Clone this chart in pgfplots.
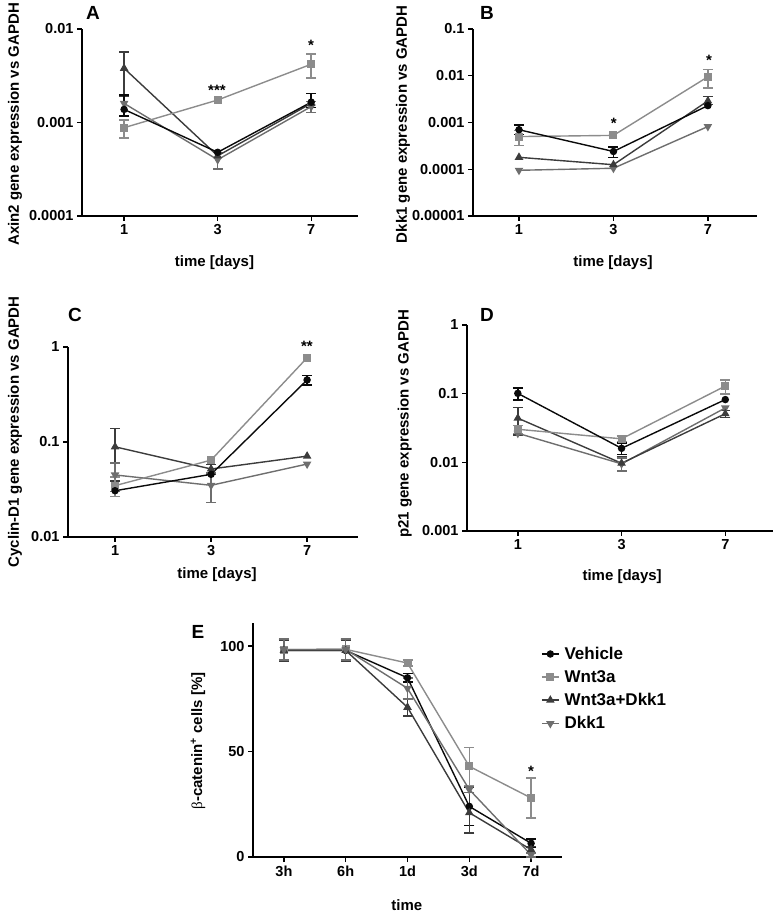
\documentclass[border=0pt]{standalone}
\usepackage{amsmath}
\usepackage{pgfplots}
\pgfplotsset{compat=1.18}
\usepackage{fontspec}
\setmainfont{Liberation Sans}
\newfontfamily\serifgr{Liberation Serif}
\definecolor{cveh}{HTML}{0A0A0A}
\definecolor{cwnt}{HTML}{8C8C8C}
\definecolor{cwd}{HTML}{3C3C3C}
\definecolor{cdkk}{HTML}{6E6E6E}
\newcommand{\lf}{\fontsize{15}{17}\selectfont\bfseries}
\pgfplotsset{
  panel/.style={
    scale only axis, anchor=south west,
    axis x line=bottom, axis y line=left,
    axis line style={-, line width=1.6pt, black},
    tick align=outside, major tick length=5pt,
    tick style={line width=1.4pt, black},
    tick label style={font=\fontsize{14.5}{16}\selectfont\bfseries},
    yminorticks=false, xminorticks=false,
    clip=false,
  },
  veh/.style={color=cveh, mark=*, mark size=3pt, line width=1.4pt},
  wnt/.style={color=cwnt, mark=square*, mark size=3.3pt, line width=1.4pt},
  wd/.style={color=cwd, mark=triangle*, mark size=3.6pt, line width=1.4pt},
  dkk/.style={color=cdkk, mark=triangle*, mark options={rotate=180}, mark size=3.6pt, line width=1.4pt},
  eb/.style={draw=none, mark=none, forget plot,
    error bars/.cd, y dir=both, y explicit,
    error bar style={line width=1.5pt, draw=#1, solid},
    error mark options={rotate=90, mark size=5pt, line width=1.5pt, draw=#1}},
}
\begin{document}
\begin{tikzpicture}[x=1pt,y=1pt]
\useasboundingbox (0,0) rectangle (777,914);

% ---------------- A ----------------
\begin{axis}[panel, at={(82pt,698pt)}, width=276pt, height=187pt,
  ymode=log, ymin=0.0001, ymax=0.01,
  ytick={0.0001,0.001,0.01}, yticklabels={0.0001,0.001,0.01},
  xmin=-0.45, xmax=2.5, xtick={0,1,2}, xticklabels={1,3,7},
  xlabel={time [days]}, ylabel={Axin2 gene expression vs GAPDH},
  every axis y label/.style={at={(rel axis cs:-0.243,0.49)}, anchor=center, rotate=90, font=\lf},
  every axis x label/.style={at={(rel axis cs:0.48,-0.251)}, anchor=center, font=\lf},
]
\addplot[eb=cwd] coordinates {(0,0.0038) +- (0,0.0019)};
\addplot[eb=cveh] coordinates {(0,0.00138) += (0,0.0006) -= (0,0.0002) (2,0.00165) += (0,0.0004) -= (0,0.0002)};
\addplot[eb=cwnt] coordinates {(0,0.00088) += (0,0.00018) -= (0,0.0002) (2,0.0042) +- (0,0.0012)};
\addplot[eb=cdkk] coordinates {(1,0.0004) +- (0,0.00008) (2,0.00148) +- (0,0.0002)};
\addplot[dkk] coordinates {(0,0.0016) (1,0.0004) (2,0.00148)};
\addplot[wd] coordinates {(0,0.0038) (1,0.00044) (2,0.0016)};
\addplot[wnt] coordinates {(0,0.00088) (1,0.00174) (2,0.0042)};
\addplot[veh] coordinates {(0,0.00138) (1,0.00048) (2,0.00165)};
\node[font=\fontsize{15}{16}\selectfont\bfseries] at (rel axis cs:0.489,0.674) {***};
\node[font=\fontsize{15}{16}\selectfont\bfseries] at (rel axis cs:0.83,0.914) {*};
\end{axis}

% ---------------- B ----------------
\begin{axis}[panel, at={(473pt,698pt)}, width=284pt, height=187pt,
  ymode=log, ymin=0.00001, ymax=0.1,
  ytick={0.00001,0.0001,0.001,0.01,0.1}, yticklabels={0.00001,0.0001,0.001,0.01,0.1},
  xmin=-0.487, xmax=2.52, xtick={0,1,2}, xticklabels={1,3,7},
  xlabel={time [days]}, ylabel={Dkk1 gene expression vs GAPDH},
  every axis y label/.style={at={(rel axis cs:-0.246,0.49)}, anchor=center, rotate=90, font=\lf},
  every axis x label/.style={at={(rel axis cs:0.493,-0.251)}, anchor=center, font=\lf},
]
\addplot[eb=cveh] coordinates {(0,0.0007) += (0,0.00018) -= (0,0.00015) (1,0.00024) +- (0,0.00006)};
\addplot[eb=cwnt] coordinates {(0,0.0005) +- (0,0.00018) (2,0.0095) +- (0,0.004)};
\addplot[eb=cwd] coordinates {(2,0.0029) += (0,0.0007) -= (0,0.0005)};
\addplot[dkk] coordinates {(0,0.000095) (1,0.000105) (2,0.00082)};
\addplot[wd] coordinates {(0,0.00018) (1,0.000125) (2,0.0029)};
\addplot[wnt] coordinates {(0,0.0005) (1,0.00053) (2,0.0095)};
\addplot[veh] coordinates {(0,0.0007) (1,0.00024) (2,0.0023)};
\node[font=\fontsize{15}{16}\selectfont\bfseries] at (rel axis cs:0.496,0.497) {*};
\node[font=\fontsize{15}{16}\selectfont\bfseries] at (rel axis cs:0.831,0.834) {*};
\end{axis}

% ---------------- C ----------------
\begin{axis}[panel, at={(68pt,377pt)}, width=290pt, height=190pt,
  ymode=log, ymin=0.01, ymax=1,
  ytick={0.01,0.1,1}, yticklabels={0.01,0.1,1},
  xmin=-0.49, xmax=2.53, xtick={0,1,2}, xticklabels={1,3,7},
  xlabel={time [days]}, ylabel={Cyclin-D1 gene expression vs GAPDH},
  every axis y label/.style={at={(rel axis cs:-0.183,0.553)}, anchor=center, rotate=90, font=\lf},
  every axis x label/.style={at={(rel axis cs:0.514,-0.2)}, anchor=center, font=\lf},
]
\addplot[eb=cwd] coordinates {(0,0.089) +- (0,0.05) (1,0.052) +- (0,0.006)};
\addplot[eb=cdkk] coordinates {(0,0.045) +- (0,0.015) (1,0.035) +- (0,0.012)};
\addplot[eb=cwnt] coordinates {(0,0.0347) +- (0,0.008)};
\addplot[eb=cveh] coordinates {(2,0.45) +- (0,0.05)};
\addplot[dkk] coordinates {(0,0.045) (1,0.035) (2,0.0586)};
\addplot[wd] coordinates {(0,0.089) (1,0.052) (2,0.071)};
\addplot[wnt] coordinates {(0,0.0347) (1,0.0645) (2,0.77)};
\addplot[veh] coordinates {(0,0.0307) (1,0.0457) (2,0.45)};
\node[font=\fontsize{15}{16}\selectfont\bfseries] at (rel axis cs:0.824,1.005) {**};
\end{axis}

% ---------------- D ----------------
\begin{axis}[panel, at={(467pt,383pt)}, width=306pt, height=206pt,
  ymode=log, ymin=0.001, ymax=1,
  ytick={0.001,0.01,0.1,1}, yticklabels={0.001,0.01,0.1,1},
  xmin=-0.49, xmax=2.46, xtick={0,1,2}, xticklabels={1,3,7},
  xlabel={time [days]}, ylabel={p21 gene expression vs GAPDH},
  every axis y label/.style={at={(rel axis cs:-0.203,0.52)}, anchor=center, rotate=90, font=\lf},
  every axis x label/.style={at={(rel axis cs:0.507,-0.223)}, anchor=center, font=\lf},
]
\addplot[eb=cveh] coordinates {(0,0.101) +- (0,0.02) (1,0.016) +- (0,0.003)};
\addplot[eb=cwnt] coordinates {(0,0.0303) +- (0,0.004) (1,0.022) +- (0,0.002) (2,0.129) +- (0,0.03)};
\addplot[eb=cwd] coordinates {(0,0.044) +- (0,0.019) (1,0.0097) +- (0,0.0022) (2,0.051) +- (0,0.006)};
\addplot[eb=cdkk] coordinates {(1,0.0095) +- (0,0.002)};
\addplot[dkk] coordinates {(0,0.0265) (1,0.0095) (2,0.062)};
\addplot[wd] coordinates {(0,0.044) (1,0.0097) (2,0.051)};
\addplot[wnt] coordinates {(0,0.0303) (1,0.022) (2,0.129)};
\addplot[veh] coordinates {(0,0.101) (1,0.016) (2,0.082)};
\end{axis}

% ---------------- E ----------------
\begin{axis}[panel, at={(253pt,57pt)}, width=309pt, height=234pt,
  ymin=0, ymax=111, ytick={0,50,100}, yticklabels={0,50,100},
  xmin=-0.5, xmax=4.5, xtick={0,1,2,3,4}, xticklabels={3h,6h,1d,3d,7d},
  xlabel={time}, ylabel={{\serifgr\mdseries β}-catenin\textsuperscript{+} cells [\%]},
  every axis y label/.style={at={(rel axis cs:-0.178,0.496)}, anchor=center, rotate=90, font=\lf},
  every axis x label/.style={at={(rel axis cs:0.498,-0.205)}, anchor=center, font=\lf},
  legend style={at={(rel axis cs:0.922,0.915)}, anchor=north west, draw=none, fill=none,
    font=\fontsize{17}{19}\selectfont\bfseries, row sep=5.5pt, nodes={inner xsep=5pt}},
  legend cell align=left,
]
\addplot[eb=cveh] coordinates {(0,98) +- (0,5) (1,98) +- (0,5) (2,85) +- (0,2) (3,24) +- (0,9) (4,6.5) +- (0,2)};
\addplot[eb=cwnt] coordinates {(0,98.4) +- (0,5) (1,98.5) +- (0,5) (2,92) +- (0,1.5) (3,43) +- (0,9) (4,28) +- (0,9.5)};
\addplot[eb=cwd] coordinates {(0,98) +- (0,5) (1,98) +- (0,5) (2,71) +- (0,4) (3,21) +- (0,9.5) (4,3.5) +- (0,1.5)};
\addplot[eb=cdkk] coordinates {(0,98.4) +- (0,5) (1,98.5) +- (0,5) (2,80) +- (0,5) (3,32) +- (0,1.5) (4,1) +- (0,1)};
\addplot[veh] coordinates {(0,98) (1,98) (2,85) (3,24) (4,6.5)};
\addlegendentry{Vehicle}
\addplot[wnt] coordinates {(0,98.4) (1,98.5) (2,92) (3,43) (4,28)};
\addlegendentry{Wnt3a}
\addplot[wd] coordinates {(0,98) (1,98) (2,71) (3,21) (4,3.5)};
\addlegendentry{Wnt3a+Dkk1}
\addplot[dkk] coordinates {(0,98.4) (1,98.5) (2,80) (3,32) (4,1)};
\addlegendentry{Dkk1}
\node[font=\fontsize{15}{16}\selectfont\bfseries] at (rel axis cs:0.9,0.368) {*};
\end{axis}

\node[font=\fontsize{19}{21}\selectfont\bfseries] at (93,901) {A};
\node[font=\fontsize{19}{21}\selectfont\bfseries] at (487,901) {B};
\node[font=\fontsize{19}{21}\selectfont\bfseries] at (75,599) {C};
\node[font=\fontsize{19}{21}\selectfont\bfseries] at (487,599) {D};
\node[font=\fontsize{19}{21}\selectfont\bfseries] at (198,282) {E};
\end{tikzpicture}
\end{document}
